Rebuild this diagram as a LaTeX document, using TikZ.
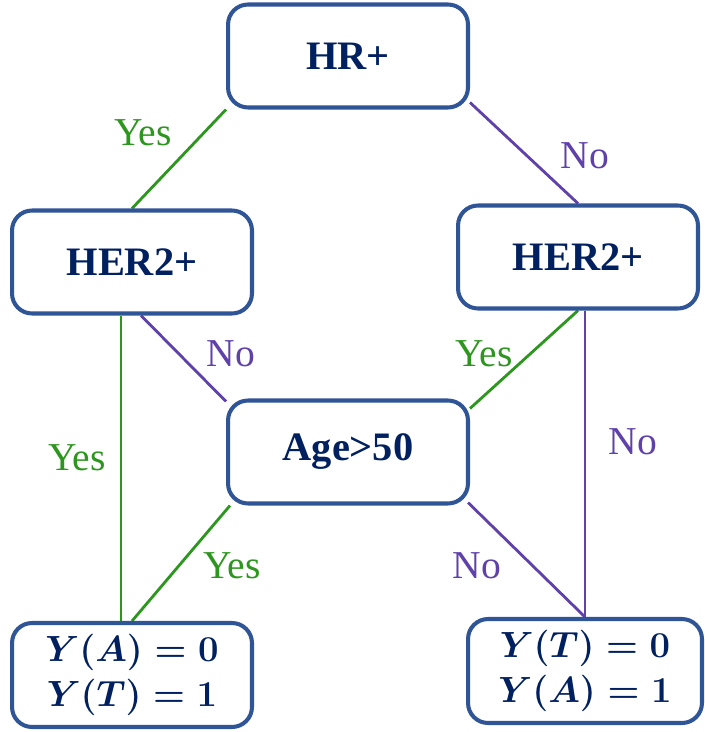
\documentclass[tikz,border=0pt]{standalone}
\usepackage{fontspec}
\setmainfont{Liberation Serif}
\usetikzlibrary{backgrounds}
\definecolor{boxblue}{RGB}{47,85,151}
\definecolor{navy}{RGB}{0,32,96}
\definecolor{yesgreen}{RGB}{45,150,30}
\definecolor{nopurple}{RGB}{95,65,170}
\begin{document}
\begin{tikzpicture}[x=0.02cm, y=-0.02cm, line join=round, line cap=round, font=\fontsize{22.5}{27}\selectfont]
			\tikzset{box/.style={draw=boxblue, line width=2.3pt, rounded corners=0.4cm, fill=white, text=navy, font=\fontsize{23}{28}\selectfont\bfseries, minimum width=4.8cm, minimum height=2.06cm, align=center, inner sep=0pt},
				leaf/.style={box, minimum height=2.08cm, font=\fontsize{20}{25.5}\selectfont\mathversion{bold}},
				yesline/.style={yesgreen, line width=1.6pt},
				noline/.style={nopurple, line width=1.6pt},
				yeslabel/.style={text=yesgreen},
				nolabel/.style={text=nopurple}}
			\useasboundingbox (0,0) rectangle (705,732);
			
			\node[box] (hr) at (348,56) {HR+};
			\node[box] (lher) at (132,262) {HER2+};
			\node[box] (rher) at (578,257) {HER2+};
			\node[box] (age) at (348,452) {Age>50};
			\node[leaf] (ya) at (132,675) {$Y(A)=0$\\$Y(T)=1$};
			\node[leaf, minimum width=4.68cm] (yt) at (585,671) {$Y(T)=0$\\$Y(A)=1$};
			
			\begin{scope}[on background layer]
			\draw[yesline] (hr.south west) -- (lher.north);
			\draw[noline] ([yshift=0.14cm]hr.south east) -- (rher.north);
			\draw[yesline] ([xshift=-0.22cm]lher.south) -- ([xshift=-0.22cm]lher.south |- ya.north);
			\draw[noline] ([xshift=0.18cm]lher.south) -- ([yshift=-0.06cm]age.north west);
			\draw[yesline] (rher.south) -- ([yshift=-0.2cm]age.north east);
			\draw[noline] (yt.north |- rher.south) -- (yt.north);
			\draw[yesline] ([xshift=0.08cm]age.south west) -- (ya.north);
			\draw[noline] ([xshift=-0.04cm,yshift=0.06cm]age.south east) -- (yt.north);
			\end{scope}
			
			\node[yeslabel] (l1) at (143,133) {Yes};
			\node[nolabel] (l2) at (585,156) {No};
			\node[yeslabel] (l3) at (77,458) {Yes};
			\node[nolabel] (l4) at (231,354) {No};
			\node[yeslabel] (l5) at (484,354) {Yes};
			\node[nolabel] (l6) at (633,442) {No};
			\node[yeslabel] (l7) at (232,566) {Yes};
			\node[nolabel] (l8) at (477,566) {No};
		\end{tikzpicture}
\end{document}
